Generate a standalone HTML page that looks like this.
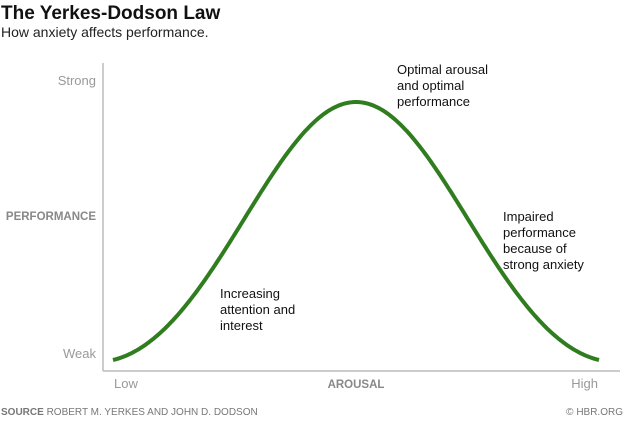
<!DOCTYPE html>
<html><head><meta charset="utf-8"><style>
body{margin:0;background:#fff;width:641px;height:423px;overflow:hidden;font-family:"Liberation Sans",sans-serif;}
</style></head><body>
<svg width="641" height="423" xmlns="http://www.w3.org/2000/svg" font-family="Liberation Sans, sans-serif">
<text x="1" y="19" font-size="19" font-weight="bold" fill="#111">The Yerkes-Dodson Law</text>
<text x="1" y="37" font-size="14" fill="#222">How anxiety affects performance.</text>
<line x1="103" y1="63" x2="103" y2="371" stroke="#bbb" stroke-width="1.5"/>
<line x1="103" y1="371" x2="620" y2="371" stroke="#bbb" stroke-width="1.5"/>
<text x="96" y="85" font-size="13" fill="#999" text-anchor="end">Strong</text>
<text x="96" y="358" font-size="13" fill="#999" text-anchor="end">Weak</text>
<text x="96" y="220" font-size="11.5" font-weight="bold" fill="#888" text-anchor="end">PERFORMANCE</text>
<text x="114" y="388" font-size="13" fill="#999">Low</text>
<text x="598" y="388" font-size="13" fill="#999" text-anchor="end">High</text>
<text x="356" y="388" font-size="11.5" font-weight="bold" fill="#888" text-anchor="middle">AROUSAL</text>
<text x="1" y="415" font-size="10" fill="#777"><tspan font-weight="bold">SOURCE</tspan> ROBERT M. YERKES AND JOHN D. DODSON</text>
<text x="623" y="415" font-size="10" fill="#777" text-anchor="end">© HBR.ORG</text>
<path id="c" fill="none" stroke="#2f7d1f" stroke-width="4" stroke-linecap="butt" d=""/>
<g font-size="13" fill="#111">
<text x="397" y="74">Optimal arousal</text><text x="397" y="90">and optimal</text><text x="397" y="106">performance</text>
<text x="503" y="221">Impaired</text><text x="503" y="237">performance</text><text x="503" y="253">because of</text><text x="503" y="269">strong anxiety</text>
<text x="220" y="298">Increasing</text><text x="220" y="314">attention and</text><text x="220" y="330">interest</text>
</g>
<script>
function f(d){var t=Math.min(d/250,1);var c=(1+Math.cos(Math.PI*t))/2;var g=Math.exp(-d*d/(2*100*100));return 0.5*c+0.5*g;}
var ve=f(243);
var pts=[];for(var x=113;x<=599;x+=2){var d=Math.abs(x-356);var v=Math.max(0,(f(d)-ve)/(1-ve));pts.push(x+","+(360-258*v).toFixed(1));}
document.getElementById("c").setAttribute("d","M"+pts.join(" L"));
</script>
</svg>
</body></html>
